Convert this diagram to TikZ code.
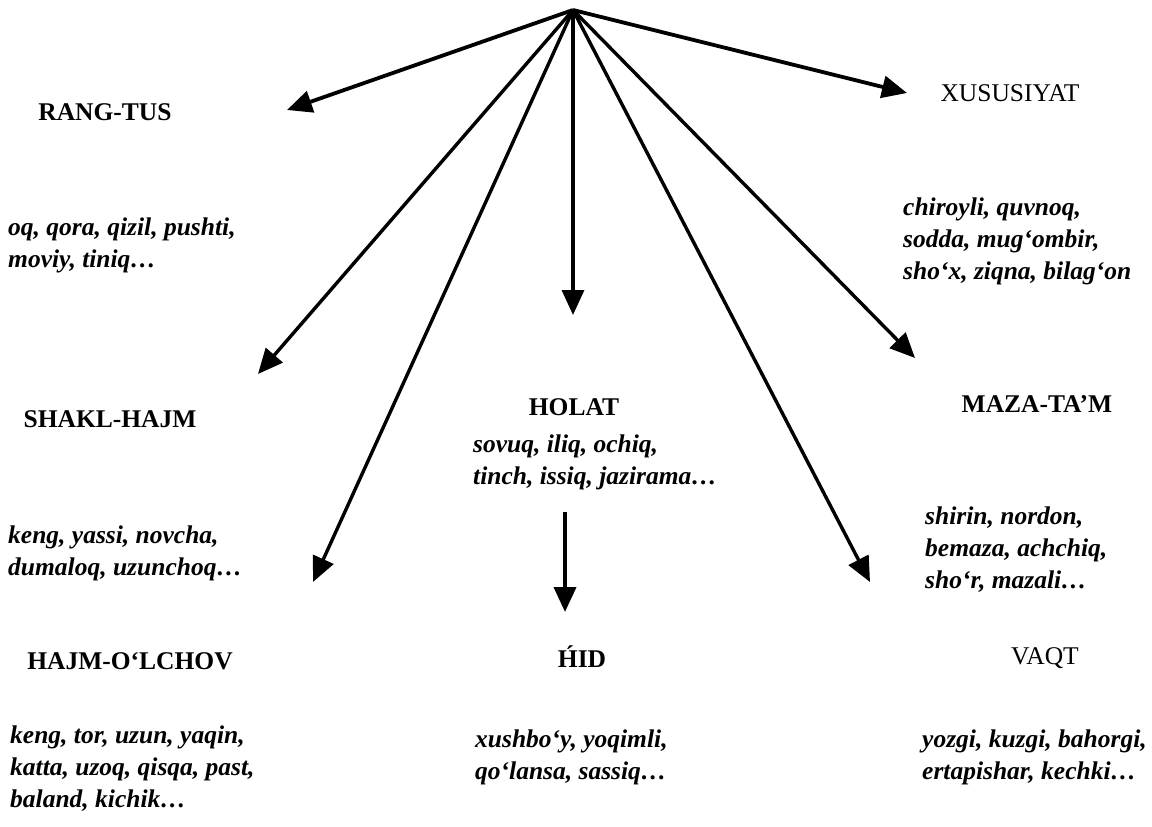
\documentclass[tikz,border=0pt]{standalone}
\usepackage{fontspec}
\setmainfont{Liberation Serif}
\usetikzlibrary{arrows.meta}
\tikzset{
  head/.style={inner sep=0pt, font=\fontsize{25.5}{30}\selectfont\bfseries},
  headr/.style={inner sep=0pt, font=\fontsize{25.5}{30}\selectfont},
  words/.style={inner sep=0pt, anchor=north west, align=left, font=\fontsize{25.5}{32}\selectfont\bfseries\itshape},
  arr/.style={line width=3.8pt, -{Triangle[length=25pt,width=22pt]}, shorten >=0pt},
  fan/.style={arr, line width=3.4pt},
}
\begin{document}
\begin{tikzpicture}[x=1pt,y=-1pt]
\path[use as bounding box, fill=white] (0,0) rectangle (1152,827);
% apex and arrow tips
\coordinate (apex) at (573,10);
\coordinate (tRang) at (287,110);
\coordinate (tXus) at (907,93);
\coordinate (tHol) at (573,315);
\coordinate (tShakl) at (258,374);
\coordinate (tHajm) at (313,582);
\coordinate (tMaza) at (915,358);
\coordinate (tVaqt) at (870,582);
\coordinate (sHid) at (565,512);
\coordinate (tHid) at (565,612);
% headings
\node[head] (rang) at (105,112) {RANG-TUS};
\node[headr] (xus) at (1010,93) {XUSUSIYAT};
\node[head] (shakl) at (110,419) {SHAKL-HAJM};
\node[head] (holat) at (574,407) {HOLAT};
\node[head] (maza) at (1037,404) {MAZA-TA’M};
\node[head] (hajm) at (130,661) {HAJM-O‘LCHOV};
\node[head] (hid) at (582,657) {\'{H}ID};
\node[headr] (vaqt) at (1045,658) {VAQT};
% word lists
\node[words] (wRang) at (8,218) {oq, qora, qizil, pushti,\\moviy, tiniq…};
\node[words] (wXus) at (903,198) {chiroyli, quvnoq,\\sodda, mug‘ombir,\\sho‘x, ziqna, bilag‘on};
\node[words] (wShakl) at (8,526) {keng, yassi, novcha,\\dumaloq, uzunchoq…};
\node[words] (wHol) at (473,435) {sovuq, iliq, ochiq,\\tinch, issiq, jazirama…};
\node[words] (wMaza) at (925,507) {shirin, nordon,\\bemaza, achchiq,\\sho‘r, mazali…};
\node[words] (wHajm) at (10,726) {keng, tor, uzun, yaqin,\\katta, uzoq, qisqa, past,\\baland, kichik…};
\node[words] (wHid) at (475,730) {xushbo‘y, yoqimli,\\qo‘lansa, sassiq…};
\node[words] (wVaqt) at (922,730) {yozgi, kuzgi, bahorgi,\\ertapishar, kechki…};
% arrows
\draw[arr] (apex) -- (tRang);
\draw[arr] (apex) -- (tXus);
\draw[fan] (apex) -- (tHol);
\draw[fan] (apex) -- (tShakl);
\draw[fan] (apex) -- (tHajm);
\draw[fan] (apex) -- (tMaza);
\draw[fan] (apex) -- (tVaqt);
\draw[arr] (sHid) -- (tHid);
\end{tikzpicture}
\end{document}
